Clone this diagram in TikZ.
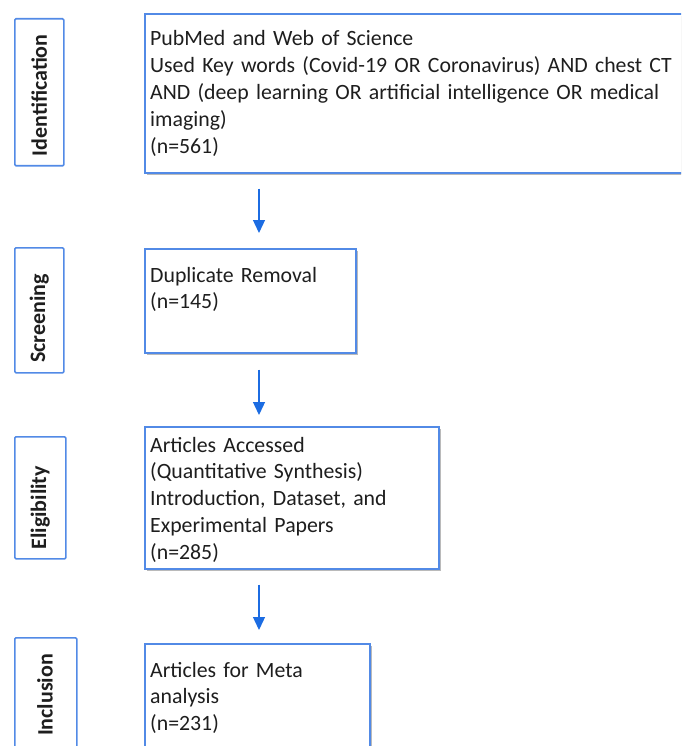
\documentclass[tikz,border=0pt]{standalone}
\usepackage{fontspec}
\setmainfont{Carlito}
\usetikzlibrary{arrows.meta,shadows}
\definecolor{boxblue}{RGB}{82,138,230}
\definecolor{arrblue}{RGB}{28,108,226}
\definecolor{txtcol}{RGB}{30,30,30}
\tikzset{
  mainbox/.style={draw=boxblue, line width=1.6pt, fill=white, inner sep=0pt,
    anchor=north west,
    drop shadow={shadow xshift=2pt, shadow yshift=-2pt, fill=black!45, opacity=0.6}},
  labbox/.style={draw=boxblue, line width=1.6pt, fill=white, inner sep=0pt,
    rounded corners=1.2pt, anchor=north west},
  maintxt/.style={inner sep=0pt, anchor=base west, text width=560pt, align=left,
    font=\fontsize{21.8}{26.8}\selectfont, text=txtcol},
  labtxt/.style={inner sep=0pt, rotate=90, font=\fontsize{22}{24}\selectfont\bfseries, text=txtcol},
  arr/.style={draw=arrblue, line width=1.3pt, -{Triangle[width=12pt,length=13pt]}}
}
\begin{document}
\begin{tikzpicture}[x=1pt,y=1pt]
\useasboundingbox (0,0) rectangle (681,-746);
\clip (0,0) rectangle (681,-746);
% stage labels
\node[labbox, minimum width=49pt, minimum height=147pt] (l1) at (14,-18) {};
\node[labbox, minimum width=49pt, minimum height=125pt] (l2) at (14,-247) {};
\node[labbox, minimum width=51pt, minimum height=122pt] (l3) at (14,-436) {};
\node[labbox, minimum width=62pt, minimum height=130pt] (l4) at (14,-637) {};
\node[labtxt] (lt1) at ([yshift=-3pt]l1.center) {Identification};
\node[labtxt] (lt2) at ([yshift=-8pt]l2.center) {Screening};
\node[labtxt] (lt3) at ([yshift=-10pt]l3.center) {Eligibility};
\node[labtxt] (lt4) at (45,-695) {Inclusion};
% main boxes
\node[mainbox, minimum width=560pt, minimum height=159pt] (b1) at (144,-13) {};
\node[mainbox, minimum width=211pt, minimum height=104pt] (b2) at (144,-248) {};
\node[mainbox, minimum width=294pt, minimum height=142pt] (b3) at (144,-426) {};
\node[mainbox, minimum width=225pt, minimum height=130pt] (b4) at (144,-643) {};
\node[maintxt] (t1) at (150,-46) {PubMed and Web of Science\\Used Key words (Covid-19 OR Coronavirus) AND chest CT\\AND (deep learning OR artificial intelligence OR medical\\imaging)\\(n=561)};
\node[maintxt] (t2) at (150,-282) {Duplicate Removal\\(n=145)};
\node[maintxt] (t3) at (150,-452) {Articles Accessed\\(Quantitative Synthesis)\\Introduction, Dataset, and\\Experimental Papers\\(n=285)};
\node[maintxt] (t4) at (150,-677) {Articles for Meta\\analysis\\(n=231)};
% arrows
\draw[arr] ([xshift=115pt,yshift=-15pt]b1.south west) -- ([xshift=115pt,yshift=15pt]b2.north west);
\draw[arr] ([xshift=115pt,yshift=-16pt]b2.south west) -- ([xshift=115pt,yshift=11pt]b3.north west);
\draw[arr] ([xshift=115pt,yshift=-15pt]b3.south west) -- ([xshift=115pt,yshift=13pt]b4.north west);
\end{tikzpicture}
\end{document}
